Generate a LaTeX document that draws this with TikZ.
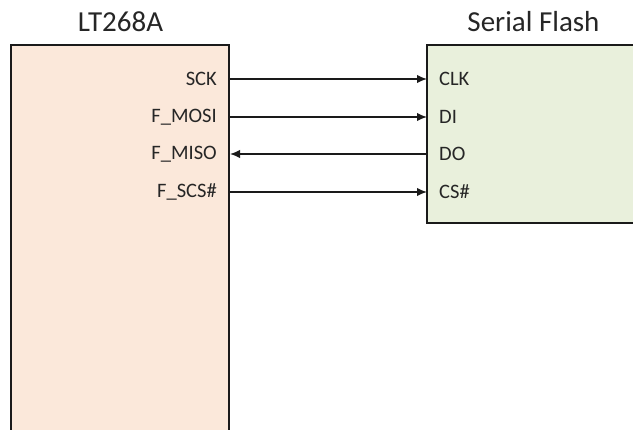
\documentclass[tikz,border=0pt]{standalone}
\usepackage{fontspec}
\setmainfont{Carlito}
\usetikzlibrary{arrows.meta}
\definecolor{chipfill}{HTML}{FBE8DA}
\definecolor{flashfill}{HTML}{E9F0DC}
\definecolor{edge}{HTML}{1A1A1A}
\tikzset{
  chip/.style={draw=edge, line width=1.5pt},
  title/.style={font=\fontsize{29}{32}\selectfont, text=black!85, inner sep=0pt},
  lpin/.style={font=\fontsize{20.5}{23}\selectfont, anchor=east, inner sep=0pt, text=black!85},
  rpin/.style={font=\fontsize{20.5}{23}\selectfont, anchor=west, inner sep=0pt, text=black!85},
  sig/.style={draw=edge, line width=1.4pt},
  tip/.style={-{Latex[length=10pt,width=8.5pt]}}
}
\begin{document}
\begin{tikzpicture}[x=1pt,y=-1pt]
\useasboundingbox (0,0) rectangle (633,430);
% boxes
\path[chip, fill=chipfill] (11,45) rectangle (229,440);
\path[chip, fill=flashfill] (427,45) rectangle (640,223);
% titles
\node[title] (t1) at (120.5,22) {LT268A};
\node[title] (t2) at (533.5,22) {Serial Flash};
% left pin labels
\node[lpin] (sck) at (217,79) {SCK};
\node[lpin] (mosi) at (217,117) {F\_MOSI};
\node[lpin] (miso) at (217,154) {F\_MISO};
\node[lpin] (scs) at (217,192) {F\_SCS\#};
% right pin labels
\node[rpin] (clk) at (439,79) {CLK};
\node[rpin] (di) at (439,117) {DI};
\node[rpin] (do) at (439,154) {DO};
\node[rpin] (cs) at (439,192) {CS\#};
% pin coordinates on box edges
\coordinate (a1) at (230,79);
\coordinate (a2) at (230,117);
\coordinate (a3) at (230,154);
\coordinate (a4) at (230,192);
\coordinate (b1) at (427,79);
\coordinate (b2) at (427,117);
\coordinate (b3) at (427,154);
\coordinate (b4) at (427,192);
% signals
\draw[sig, tip] (a1) -- (b1);
\draw[sig, tip] (a2) -- (b2);
\draw[sig, tip] (b3) -- (a3);
\draw[sig, tip] (a4) -- (b4);
\end{tikzpicture}
\end{document}
